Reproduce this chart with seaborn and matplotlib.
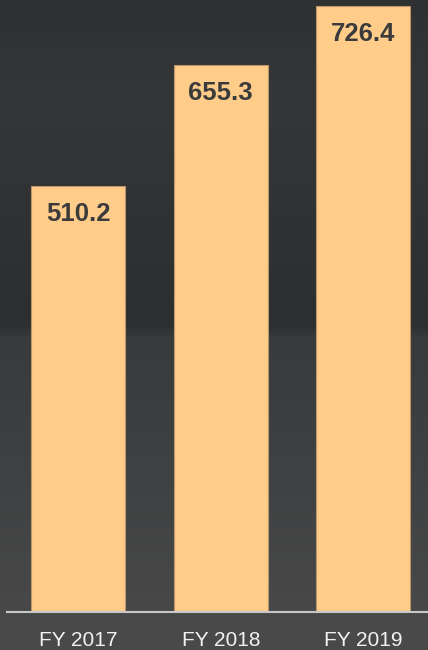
import matplotlib
matplotlib.use("Agg")
import matplotlib.pyplot as plt
import seaborn as sns
import pandas as pd
import numpy as np

categories = ["FY 2017", "FY 2018", "FY 2019"]
values = [510.2, 655.3, 726.4]
value_labels = ["510.2", "655.3", "726.4"]

sns.set_theme(style="white")
plt.rcParams["font.family"] = ["Liberation Sans", "DejaVu Sans"]

bg = "#38393B"
W, H = 428, 650
fig = plt.figure(figsize=(W / 100, H / 100), dpi=100, facecolor=bg)

# decorative dark background gradient (not data)
bgax = fig.add_axes([0, 0, 1, 1], zorder=-10)
rows = np.linspace(0, 1, H)
stops_y = [0.0, 0.15, 0.5, 0.52, 1.0]
stops_c = np.array([[0x2E, 0x30, 0x32], [0x34, 0x36, 0x38], [0x2C, 0x2E, 0x30],
                    [0x38, 0x3A, 0x3C], [0x4A, 0x4A, 0x4A]]) / 255.0
grad = np.stack([np.interp(rows, stops_y, stops_c[:, k]) for k in range(3)], axis=-1)
bgax.imshow(grad[:, None, :], aspect="auto", extent=[0, 1, 1, 0])
bgax.set_axis_off()

ax = fig.add_axes([7 / W, 38 / H, 421 / W, 612 / H])
ax.patch.set_alpha(0)

df = pd.DataFrame({"cat": categories, "val": values})
sns.barplot(data=df, x="cat", y="val", ax=ax, color="#FFCC8A", saturation=1,
            width=0.66, edgecolor="#B8956A", linewidth=0.8)

ax.set_xlim(-0.5, 2.454)
ax.set_ylim(0, 733.5)

for i, (v, lab) in enumerate(zip(values, value_labels)):
    ax.annotate(lab, xy=(i, v), xytext=(0, -28), textcoords="offset pixels",
                ha="center", va="center", fontsize=18.5, fontweight="bold",
                color="#3B3B3B")

ax.set_xlabel("")
ax.set_ylabel("")
ax.set_yticks([])
ax.tick_params(axis="x", length=0, pad=14, labelsize=15, labelcolor="#F2F2F2")
for s in ["top", "left", "right"]:
    ax.spines[s].set_visible(False)
ax.spines["bottom"].set_color("#C8C8C8")
ax.spines["bottom"].set_linewidth(1.5)

fig.savefig("out.png", dpi=100, facecolor=bg)
